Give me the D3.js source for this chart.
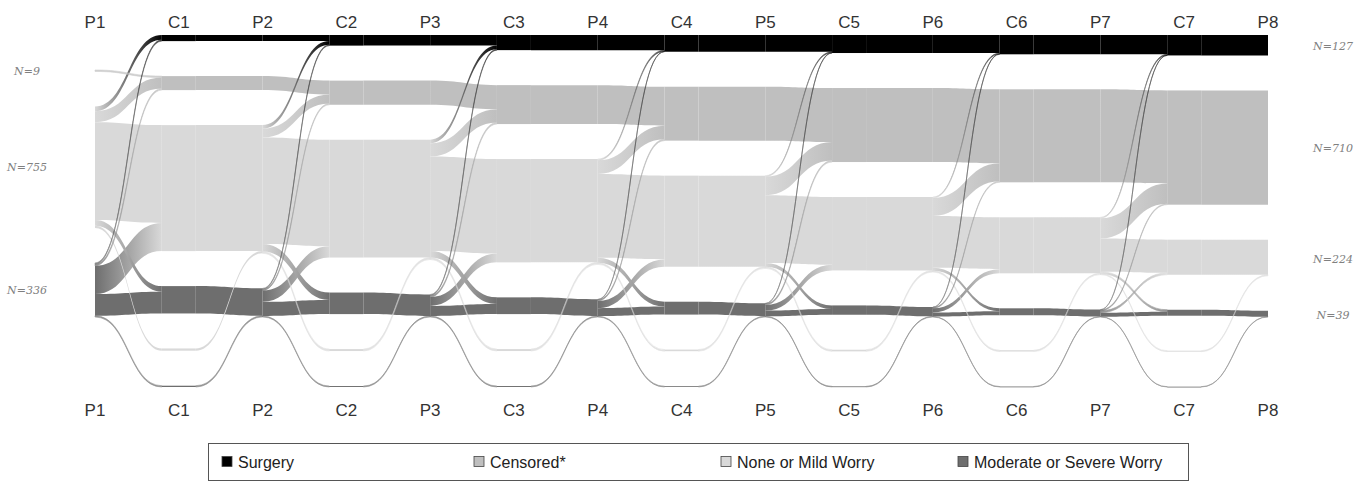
<!DOCTYPE html>
<html lang="en">
<head>
<meta charset="UTF-8">
<title>Worry trajectories</title>
<script src="https://cdn.jsdelivr.net/npm/d3@7"></script>
<style>
    body { margin: 0; background: #fff; font-family: Arial, "Liberation Sans", sans-serif; }
    .col-label { font-size: 17px; fill: #333; }
    .n-label { font-family: "DejaVu Serif", "Liberation Serif", serif; font-style: italic; font-size: 11px; fill: #808080; }
    .legend text { font-size: 16px; fill: #222; }
</style>
</head>
<body>
<svg id="chart" width="1369" height="483"></svg>
<script>
// columns: P = questionnaire time point, C = change between points
const columns = ["P1","C1","P2","C2","P3","C3","P4","C4","P5","C5","P6","C6","P7","C7","P8"];
const states = ["Surgery", "Censored*", "None or Mild Worry", "Moderate or Severe Worry"];
const stateColors = ["#000000", "#bfbfbf", "#d9d9d9", "#6e6e6e"];

// counts at P1 (surgery, censored, none/mild, moderate/severe)
const startCounts = [0, 9, 755, 336];

// transitions in each interval Pi -> Ci (7 intervals)
const nmToSurgery  = [30, 22, 22, 8, 6, 6, 6];
const msToSurgery  = [8, 6, 6, 2, 2, 2, 1];
const nmToCensored = [68, 55, 82, 85, 116, 112, 126];
const msToCensored = [10, 8, 10, 8, 9, 6, 6];
const nmToModerate = [35, 46, 41, 30, 23, 18, 12];
const msToNoneMild = [175, 70, 55, 45, 35, 26, 12];
// patients with a skipped answer (bottom loops)
const nmSkipped = [14, 12, 12, 10, 10, 8, 6];
const msSkipped = [8, 6, 6, 5, 4, 3, 2];

const svg = d3.select("#chart");
const defs = svg.append("defs");

const x = d3.scalePoint().domain(columns).range([95, 1268]);
const total = d3.sum(startCounts);
const k = d3.scaleLinear().domain([0, total]).range([0, 177]);
const topY = 35, gap = 35, cWidth = 34;

// build nodes per column
const cols = columns.map((name, ci) => {
    const isC = name[0] === "C";
    const list = [0, 1, 2, 3].map(s => ({ col: ci, state: s, value: 0, out: [], inn: [] }));
    if (isC) {
        list.push({ col: ci, state: 2, value: 0, out: [], inn: [], skip: true });
        list.push({ col: ci, state: 3, value: 0, out: [], inn: [], skip: true });
    }
    list.forEach((n, i) => n.idx = i);
    return { name, isC, nodes: list };
});

const links = [];
function addLink(src, tgt, value) {
    if (value <= 0) return;
    const l = { source: src, target: tgt, value };
    src.out.push(l); tgt.inn.push(l);
    links.push(l);
}

let cur = startCounts.slice();
for (let i = 0; i < 7; i++) {
    const P = cols[2 * i].nodes, C = cols[2 * i + 1].nodes, N = cols[2 * i + 2].nodes;
    const nmStay = cur[2] - nmToSurgery[i] - nmToCensored[i] - nmToModerate[i] - nmSkipped[i];
    const msStay = cur[3] - msToSurgery[i] - msToCensored[i] - msToNoneMild[i] - msSkipped[i];
    addLink(P[0], C[0], cur[0]);
    addLink(P[1], C[1], cur[1]);
    addLink(P[2], C[0], nmToSurgery[i]);
    addLink(P[2], C[1], nmToCensored[i]);
    addLink(P[2], C[2], nmStay);
    addLink(P[2], C[3], nmToModerate[i]);
    addLink(P[2], C[4], nmSkipped[i]);
    addLink(P[3], C[0], msToSurgery[i]);
    addLink(P[3], C[1], msToCensored[i]);
    addLink(P[3], C[2], msToNoneMild[i]);
    addLink(P[3], C[3], msStay);
    addLink(P[3], C[5], msSkipped[i]);
    const cv = [
        cur[0] + nmToSurgery[i] + msToSurgery[i],
        cur[1] + nmToCensored[i] + msToCensored[i],
        nmStay + msToNoneMild[i],
        msStay + nmToModerate[i]
    ];
    addLink(C[0], N[0], cv[0]);
    addLink(C[1], N[1], cv[1]);
    addLink(C[2], N[2], cv[2]);
    addLink(C[3], N[3], cv[3]);
    addLink(C[4], N[2], nmSkipped[i]);
    addLink(C[5], N[3], msSkipped[i]);
    cur = [cv[0], cv[1], cv[2] + nmSkipped[i], cv[3] + msSkipped[i]];
}

// node values and positions
cols.forEach(c => {
    let y = topY;
    const xc = x(c.name);
    c.nodes.forEach(n => {
        n.value = Math.max(d3.sum(n.out, l => l.value), d3.sum(n.inn, l => l.value));
        n.x0 = c.isC ? xc - cWidth / 2 : xc;
        n.x1 = c.isC ? xc + cWidth / 2 : xc;
        n.y0 = y;
        n.y1 = y + k(n.value);
        y = n.y1 + gap;
    });
    c.nodes.forEach(n => {
        let sy = n.y0;
        n.out.sort((a, b) => a.target.idx - b.target.idx).forEach(l => {
            l.sy0 = sy; sy += k(l.value); l.sy1 = sy;
        });
        let ty = n.y0;
        n.inn.sort((a, b) => a.source.idx - b.source.idx).forEach(l => {
            l.ty0 = ty; ty += k(l.value); l.ty1 = ty;
        });
    });
});

function bandPath(l) {
    const x0 = l.source.x1, x1 = l.target.x0, xm = (x0 + x1) / 2;
    return `M${x0},${l.sy0}C${xm},${l.sy0} ${xm},${l.ty0} ${x1},${l.ty0}` +
        `L${x1},${l.ty1}C${xm},${l.ty1} ${xm},${l.sy1} ${x0},${l.sy1}Z`;
}

// C column nodes
cols.filter(c => c.isC).forEach(c => {
    svg.append("g").selectAll("rect")
        .data(c.nodes.filter(n => n.value > 0))
        .join("rect")
        .attr("x", n => n.x0)
        .attr("y", n => n.y0)
        .attr("width", n => n.x1 - n.x0)
        .attr("height", n => Math.max(n.y1 - n.y0, 0.8))
        .attr("fill", n => stateColors[n.state]);
});

// links, thick first so thin ones stay visible
links.sort((a, b) => b.value - a.value);
links.forEach((l, i) => {
    const g = defs.append("linearGradient")
        .attr("id", "lg" + i)
        .attr("gradientUnits", "userSpaceOnUse")
        .attr("x1", l.source.x1).attr("x2", l.target.x0)
        .attr("y1", 0).attr("y2", 0);
    g.append("stop").attr("offset", "0%").attr("stop-color", stateColors[l.source.state]);
    g.append("stop").attr("offset", "100%").attr("stop-color", stateColors[l.target.state]);
    const thin = k(l.value) < 2;
    svg.append("path")
        .attr("d", bandPath(l))
        .attr("fill", `url(#lg${i})`)
        .attr("stroke", thin ? `url(#lg${i})` : "none")
        .attr("stroke-width", thin ? 0.6 : 0)
        .attr("opacity", thin ? 0.75 : 1);
});

// column labels top and bottom
[22, 410].forEach(yy => {
    svg.append("g").selectAll("text")
        .data(columns)
        .join("text")
        .attr("class", "col-label")
        .attr("x", d => x(d))
        .attr("y", yy)
        .attr("dy", "0.35em")
        .attr("text-anchor", "middle")
        .text(d => d);
});

// N labels at first and last column
const first = cols[0].nodes.filter(n => n.value > 0);
const last = cols[cols.length - 1].nodes.filter(n => n.value > 0);
svg.append("g").selectAll("text")
    .data(first)
    .join("text")
    .attr("class", "n-label")
    .attr("x", 27).attr("y", n => (n.y0 + n.y1) / 2)
    .attr("dy", "0.35em").attr("text-anchor", "middle")
    .text(n => `N=${n.value}`);
svg.append("g").selectAll("text")
    .data(last)
    .join("text")
    .attr("class", "n-label")
    .attr("x", 1333).attr("y", n => (n.y0 + n.y1) / 2 + 1)
    .attr("dy", "0.35em").attr("text-anchor", "middle")
    .text(n => `N=${n.value}`);

// legend
const legendX = [222, 474, 721, 958];
const legend = svg.append("g").attr("class", "legend");
legend.append("rect")
    .attr("x", 208.5).attr("y", 443.5)
    .attr("width", 980).attr("height", 37)
    .attr("fill", "#fff").attr("stroke", "#555");
const item = legend.selectAll("g.item")
    .data(states)
    .join("g")
    .attr("class", "item")
    .attr("transform", (d, i) => `translate(${legendX[i]},462)`);
item.append("rect")
    .attr("x", 0).attr("y", -5.5)
    .attr("width", 10).attr("height", 10)
    .attr("fill", (d, i) => stateColors[i])
    .attr("stroke", "#444").attr("stroke-width", 0.8);
item.append("text")
    .attr("x", 16).attr("dy", "0.35em")
    .text(d => d);
</script>
</body>
</html>
